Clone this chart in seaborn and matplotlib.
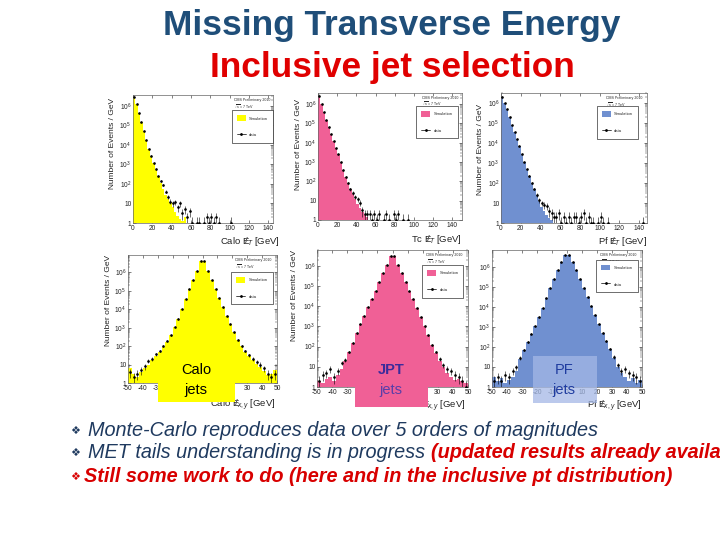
import numpy as np
import pandas as pd
import matplotlib
matplotlib.use("Agg")
import matplotlib.pyplot as plt
from matplotlib.patches import Rectangle, Patch
from matplotlib.lines import Line2D
from matplotlib.ticker import LogLocator, NullFormatter
import seaborn as sns

# ==========================================
# Values
# (log10 of events / GeV, 2.5 GeV bins; None = empty bin)
# ==========================================
et_sim_edges = np.arange(0, 57.5, 2.5)        # simulation 0..55 GeV
et_data_edges = np.arange(0, 152.5, 2.5)      # data 0..150 GeV
exy_edges = np.arange(-50, 52.5, 2.5)         # -50..50 GeV

calo_et_sim = [6.45, 6.1, 5.65, 5.15, 4.7, 4.25, 3.8, 3.45, 3.05, 2.7, 2.4,
               2.05, 1.75, 1.45, 1.25, 1.05, 0.8, 0.55, 0.35, 0.2, 0.1, 0.3]
calo_et_data = [6.45, 6.1, 5.65, 5.15, 4.7, 4.25, 3.8, 3.45, 3.05, 2.75, 2.4,
                2.15, 1.95, 1.6, 1.35, 1.1, 1.0, 1.05, 0.8, 1.0, 0.5, 0.7,
                0.3, 0.6, 0.0, None, 0.0, 0.0, None, 0.0, 0.3, 0.0, 0.3, 0.0,
                0.3, 0.0, None, None, None, None, 0.0]

tc_et_sim = [6.4, 6.0, 5.6, 5.2, 4.8, 4.45, 4.1, 3.75, 3.4, 3.0, 2.6, 2.25,
             1.9, 1.6, 1.35, 1.1, 0.85, 0.6, 0.4, 0.25, 0.15, 0.0]
tc_et_data = [6.4, 6.0, 5.6, 5.2, 4.8, 4.45, 4.1, 3.75, 3.4, 3.0, 2.6, 2.25,
              1.9, 1.6, 1.4, 1.2, 1.1, 0.9, 0.5, 0.3, 0.3, 0.3, 0.0, 0.3,
              0.0, 0.3, None, 0.0, 0.3, 0.0, None, 0.3, 0.0, 0.3, None, 0.0,
              None, 0.0]

pf_et_sim = [6.3, 6.0, 5.7, 5.3, 4.9, 4.55, 4.2, 3.85, 3.45, 3.05, 2.7, 2.35,
             2.0, 1.7, 1.4, 1.1, 0.8, 0.6, 0.4, 0.25, 0.15, 0.0]
pf_et_data = [6.3, 6.0, 5.7, 5.3, 4.9, 4.55, 4.2, 3.85, 3.45, 3.05, 2.7, 2.35,
              2.0, 1.7, 1.4, 1.15, 1.0, 0.9, 0.85, 0.6, 0.5, 0.3, 0.3, 0.5,
              0.0, 0.3, 0.0, 0.3, 0.0, 0.3, 0.3, 0.0, 0.3, 0.5, 0.0, 0.3,
              0.0, 0.0, None, 0.0, 0.3, 0.0, None, 0.0, None, None, None,
              None, None, None, None, None, None, None, None, None, None, 0.0]

calo_exy_sim = [0.8, 0.5, 0.3, 0.6, 0.8, 1.0, 1.25, 1.45, 1.7, 1.95, 2.25,
                2.6, 3.05, 3.5, 4.0, 4.55, 5.1, 5.6, 6.1, 6.6, 6.6, 6.1, 5.6,
                5.1, 4.6, 4.1, 3.65, 3.2, 2.75, 2.35, 2.0, 1.7, 1.45, 1.25,
                1.05, 0.85, 0.65, 0.45, 0.5, 0.7]
calo_exy_data = [0.6, 0.3, 0.5, 0.7, 0.9, 1.2, 1.3, 1.55, 1.75, 2.0, 2.3,
                 2.6, 3.05, 3.5, 4.0, 4.55, 5.1, 5.6, 6.1, 6.6, 6.6, 6.1, 5.6,
                 5.1, 4.6, 4.1, 3.65, 3.2, 2.75, 2.35, 2.0, 1.75, 1.5, 1.3,
                 1.15, 1.0, 0.8, 0.5, 0.3, 0.5]

tc_exy_sim = [0.3, 0.2, 0.4, 0.5, 0.3, 0.6, 0.9, 1.3, 1.75, 2.2, 2.65, 3.1,
              3.5, 3.95, 4.35, 4.75, 5.2, 5.65, 6.05, 6.5, 6.5, 6.05, 5.65,
              5.2, 4.75, 4.35, 3.9, 3.45, 3.0, 2.55, 2.1, 1.7, 1.3, 1.0, 0.7,
              0.5, 0.35, 0.4, 0.3, 0.2]
tc_exy_data = [0.3, 0.6, 0.7, 0.9, 0.5, 0.8, 1.2, 1.35, 1.75, 2.2, 2.65, 3.1,
               3.5, 3.95, 4.35, 4.75, 5.2, 5.65, 6.05, 6.5, 6.5, 6.05, 5.65,
               5.2, 4.75, 4.35, 3.9, 3.45, 3.0, 2.55, 2.1, 1.75, 1.4, 1.1,
               0.9, 0.8, 0.6, 0.5, 0.3, 0.0]

pf_exy_sim = [0.5, 0.3, 0.45, 0.2, 0.35, 0.5, 0.8, 1.4, 1.85, 2.25, 2.65,
              3.05, 3.5, 3.95, 4.45, 4.95, 5.4, 5.85, 6.25, 6.58, 6.58, 6.25,
              5.85, 5.4, 4.95, 4.5, 4.05, 3.6, 3.15, 2.7, 2.3, 1.9, 1.45, 1.0,
              0.7, 0.5, 0.3, 0.45, 0.2, 0.35]
pf_exy_data = [0.3, 0.5, 0.3, 0.6, 0.5, 0.8, 1.0, 1.45, 1.85, 2.25, 2.65,
               3.05, 3.5, 3.95, 4.45, 4.95, 5.4, 5.85, 6.25, 6.58, 6.58, 6.25,
               5.85, 5.4, 4.95, 4.5, 4.05, 3.6, 3.15, 2.7, 2.3, 1.9, 1.5, 1.1,
               0.8, 0.9, 0.7, 0.6, 0.5, 0.3]

y_ticks = [1, 10, 1e2, 1e3, 1e4, 1e5, 1e6]
y_tick_labels = ["1", "10", "$10^2$", "$10^3$", "$10^4$", "$10^5$", "$10^6$"]
et_ticks = [0, 20, 40, 60, 80, 100, 120, 140]
exy_ticks = [-50, -40, -30, -20, -10, 0, 10, 20, 30, 40, 50]

YELLOW = "#FFFF00"
PINK = "#F06096"
BLUE = "#7090D0"

# ==========================================
# Style
# ==========================================
sns.set_style("ticks")
plt.rcParams["font.family"] = ["Liberation Sans", "DejaVu Sans"]
plt.rcParams["mathtext.fontset"] = "custom"
plt.rcParams["mathtext.rm"] = "Liberation Sans"
plt.rcParams["mathtext.it"] = "Liberation Sans:italic"
plt.rcParams["mathtext.bf"] = "Liberation Sans:bold"
plt.rcParams["axes.unicode_minus"] = False

fig = plt.figure(figsize=(7.2, 5.4), dpi=100)
fig.patch.set_facecolor("white")


def px_axes(left, top, right, bottom):
    # slide pixel box -> figure axes
    return fig.add_axes([left / 720, 1 - bottom / 540,
                         (right - left) / 720, (bottom - top) / 540])


def draw_panel(ax, sim_edges, sim_log, data_edges, data_log, color, xlim,
               ytop, xticks, xlabel, xlab_pos, ylab_pos, legend_anchor):
    sim_df = pd.DataFrame({
        "x": (sim_edges[:-1] + sim_edges[1:]) / 2,
        "w": 10.0 ** np.array(sim_log),
    })
    sns.histplot(data=sim_df, x="x", weights="w", bins=list(sim_edges),
                 element="step", fill=True, color=color, alpha=1,
                 linewidth=0, ax=ax)

    centers = (data_edges[:-1] + data_edges[1:]) / 2
    pts = [(c, 10.0 ** v) for c, v in zip(centers, data_log) if v is not None]
    dx = np.array([p[0] for p in pts])
    dy = np.array([p[1] for p in pts])
    ax.errorbar(dx, dy, yerr=np.sqrt(dy), fmt="o", ms=0.9, color="black",
                elinewidth=0.4, capsize=0, zorder=3)

    ax.set_yscale("log")
    ax.set_xlim(*xlim)
    ax.set_ylim(1, 10 ** ytop)
    ax.set_yticks(y_ticks)
    ax.set_yticklabels(y_tick_labels)
    ax.yaxis.set_minor_locator(LogLocator(base=10, subs=np.arange(2, 10)))
    ax.yaxis.set_minor_formatter(NullFormatter())
    ax.set_xticks(xticks)
    ax.tick_params(which="major", direction="in", length=2.5, width=0.4,
                   labelsize=4.8, pad=1.2, colors="#222222",
                   top=True, right=True)
    ax.tick_params(which="minor", direction="in", length=1.2, width=0.3,
                   top=True, right=True)
    for s in ax.spines.values():
        s.set_linewidth(0.5)
        s.set_color("#666666")

    ax.set_xlabel(xlabel, fontsize=6.8, loc="right", color="#222222")
    ax.xaxis.set_label_coords(*xlab_pos)
    if ylab_pos is not None:
        ax.set_ylabel("Number of Events / GeV", fontsize=6, loc="top",
                      color="#222222")
        ax.yaxis.set_label_coords(*ylab_pos)
    else:
        ax.set_ylabel("")

    ax.text(0.72, 0.975, "CMS Preliminary 2010", transform=ax.transAxes,
            fontsize=2.6, va="top", ha="left")
    ax.text(0.72, 0.935, r"$\sqrt{s}$ = 7 TeV", transform=ax.transAxes,
            fontsize=2.6, va="top", ha="left")
    handles = [Patch(facecolor=color, edgecolor="none"),
               Line2D([], [], color="black", marker="o", ms=1, lw=0.5)]
    leg = ax.legend(handles, ["Simulation", "data"], loc="upper right",
                    bbox_to_anchor=legend_anchor, fontsize=3,
                    frameon=True, fancybox=False, edgecolor="black",
                    framealpha=1, borderpad=1.2, labelspacing=2.6,
                    handlelength=2.2, handleheight=1.8, borderaxespad=0)
    leg.get_frame().set_linewidth(0.4)


et_lab = r"$\mathrm{E}\!\!\!/_{T}$ [GeV]"
exy_lab = r"$\mathrm{E}\!\!\!/_{x,y}$ [GeV]"

ax1 = px_axes(133, 95, 273, 223)
draw_panel(ax1, et_sim_edges, calo_et_sim, et_data_edges, calo_et_data,
           YELLOW, (0, 145), 6.55, et_ticks, "Calo " + et_lab,
           (1.05, -0.09), (-0.12, 0.975), (1.0, 0.88))

ax2 = px_axes(318, 93, 462, 220)
draw_panel(ax2, et_sim_edges, tc_et_sim, et_data_edges, tc_et_data,
           PINK, (0, 150), 6.58, et_ticks, "Tc " + et_lab,
           (1.0, -0.1), (-0.11, 0.95), (0.97, 0.9))

ax3 = px_axes(501, 93, 647, 223)
draw_panel(ax3, et_sim_edges, pf_et_sim, et_data_edges, pf_et_data,
           BLUE, (0, 148), 6.5, et_ticks, "Pf " + et_lab,
           (1.0, -0.09), (-0.116, 0.92), (0.94, 0.9))

ax4 = px_axes(128, 255, 277, 383)
draw_panel(ax4, exy_edges, calo_exy_sim, exy_edges, calo_exy_data,
           YELLOW, (-50, 50), 6.95, exy_ticks, "Calo " + exy_lab,
           (0.99, -0.115), (-0.107, 1.0), (0.97, 0.87))

ax5 = px_axes(317, 250, 468, 387)
draw_panel(ax5, exy_edges, tc_exy_sim, exy_edges, tc_exy_data,
           PINK, (-50, 50), 6.78, exy_ticks, "Tc " + exy_lab,
           (0.98, -0.088), (-0.126, 1.0), (0.97, 0.89))

ax6 = px_axes(492, 250, 642, 387)
draw_panel(ax6, exy_edges, pf_exy_sim, exy_edges, pf_exy_data,
           BLUE, (-50, 50), 6.83, exy_ticks, "Pf " + exy_lab,
           (1.0, -0.088), None, (0.97, 0.93))

# ==========================================
# Slide text
# ==========================================
def fx(x):
    return x / 720


def fy(y):
    return 1 - y / 540


fig.text(fx(392), fy(25), "Missing Transverse Energy", fontsize=25.4,
         fontweight="bold", color="#1F4E79", ha="center", va="center")
fig.text(fx(392), fy(67), "Inclusive jet selection", fontsize=25.4,
         fontweight="bold", color="#E00000", ha="center", va="center")

# jet type boxes
boxes = [
    (158, 355, 235, 402, YELLOW, 1.0, ("Calo", "black", "normal"), ("jets", "black", "normal"), 196),
    (355, 352, 428, 407, PINK, 1.0, ("JPT", "#3B2B9B", "bold"), ("jets", "#5A3EA8", "normal"), 391),
    (533, 356, 597, 403, "#A4B8E6", 0.75, ("PF", "#1F3CA0", "normal"), ("jets", "#1F3CA0", "normal"), 564),
]
for l, t, r, b, col, a, top_txt, bot_txt, cx in boxes:
    fig.add_artist(Rectangle((fx(l), fy(b)), (r - l) / 720, (b - t) / 540,
                             transform=fig.transFigure, facecolor=col,
                             alpha=a, edgecolor="none", zorder=5))
    fig.text(fx(cx), fy(370), top_txt[0], color=top_txt[1],
             fontweight=top_txt[2], fontsize=10.5, ha="center", va="center",
             zorder=6)
    fig.text(fx(cx), fy(390), bot_txt[0], color=bot_txt[1],
             fontweight=bot_txt[2], fontsize=10.5, ha="center", va="center",
             zorder=6)

NAVY = "#1F3A5F"
RED = "#D80000"
bullet_fam = ["DejaVu Sans"]
for y, c in [(431, NAVY), (453, NAVY), (477, RED)]:
    fig.text(fx(75), fy(y), "\u2756", fontsize=8, color=c, ha="center",
             va="center", family=bullet_fam)

fig.text(fx(88), fy(431), "Monte-Carlo reproduces data over 5 orders of magnitudes",
         fontsize=14.35, style="italic", color=NAVY, va="center", ha="left")
t2 = fig.text(fx(88), fy(453), "MET tails understanding is in progress ",
              fontsize=14.35, style="italic", color=NAVY, va="center", ha="left")
fig.canvas.draw()
bb = t2.get_window_extent()
fig.text(bb.x1 / fig.bbox.width, fy(453), "(updated results already available)",
         fontsize=14.35, style="italic", fontweight="bold", color=RED,
         va="center", ha="left")
fig.text(fx(84), fy(477),
         "Still some work to do (here and in the inclusive pt distribution)",
         fontsize=14.35, style="italic", fontweight="bold", color=RED,
         va="center", ha="left")

fig.savefig("out.png", dpi=100, facecolor="white")
